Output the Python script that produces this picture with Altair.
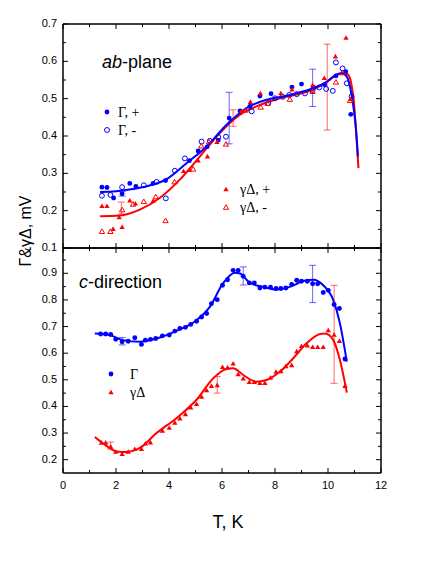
import altair as alt
import pandas as pd

# ---------------- data ----------------
# ab-plane, Gamma "+" (filled blue circles)
ab_gp_T = [1.47, 1.66, 1.91, 2.23, 2.52, 2.75, 3.40, 3.87, 4.77, 5.10, 5.44, 5.86, 6.27, 6.68,
           7.05, 7.43, 7.85, 8.64, 9.00, 9.45, 9.87, 10.30, 10.67, 10.86]
ab_gp_v = [0.263, 0.262, 0.234, 0.245, 0.273, 0.265, 0.273, 0.281, 0.334, 0.360, 0.371, 0.389, 0.448, 0.467,
           0.479, 0.507, 0.513, 0.531, 0.539, 0.531, 0.537, 0.561, 0.572, 0.458]
# ab-plane, Gamma "-" (open blue circles)
ab_gm_T = [1.47, 1.79, 2.23, 3.05, 3.53, 3.88, 4.22, 4.60, 5.23, 5.54, 5.86, 6.15, 7.12, 7.75,
           8.00, 8.29, 8.54, 8.82, 9.13, 9.42, 9.67, 9.93, 10.18, 10.30, 10.55, 10.71, 10.89]
ab_gm_v = [0.240, 0.242, 0.263, 0.268, 0.277, 0.233, 0.307, 0.340, 0.385, 0.387, 0.397, 0.398, 0.466, 0.488,
           0.501, 0.505, 0.510, 0.512, 0.514, 0.523, 0.530, 0.526, 0.521, 0.597, 0.581, 0.541, 0.506]
# ab-plane, gamma-Delta "+" (filled red triangles)
ab_dp_T = [1.47, 1.66, 1.89, 2.12, 2.23, 2.52, 2.73, 3.40, 4.55, 4.77, 5.10, 5.45, 5.81, 6.74,
           7.07, 7.45, 8.22, 8.64, 9.42, 9.86, 10.28, 10.68, 10.86]
ab_dp_v = [0.213, 0.213, 0.152, 0.183, 0.157, 0.228, 0.220, 0.227, 0.307, 0.310, 0.335, 0.346, 0.385, 0.468,
           0.492, 0.515, 0.515, 0.525, 0.537, 0.556, 0.614, 0.664, 0.500]
# ab-plane, gamma-Delta "-" (open red triangles)
ab_dm_T = [1.47, 1.79, 2.23, 2.64, 3.05, 3.50, 3.87, 4.21, 4.91, 5.22, 5.51, 6.15, 6.89, 7.46,
           7.72, 8.56, 9.42, 10.30, 10.54, 10.83]
ab_dm_v = [0.145, 0.145, 0.203, 0.218, 0.225, 0.238, 0.174, 0.278, 0.312, 0.374, 0.385, 0.379, 0.470, 0.478,
           0.488, 0.499, 0.520, 0.545, 0.570, 0.496]
# ab-plane fitted curves
ab_fitG_T = [1.40, 2.00, 2.64, 3.40, 3.90, 4.66, 5.42, 6.17, 6.93, 7.68, 8.44, 8.94, 9.45, 9.95,
             10.33, 10.52, 10.71, 10.83, 10.96, 11.06, 11.13]
ab_fitG_v = [0.250, 0.252, 0.258, 0.270, 0.284, 0.327, 0.372, 0.430, 0.475, 0.497, 0.508, 0.517, 0.528, 0.545,
             0.565, 0.568, 0.559, 0.532, 0.478, 0.416, 0.345]
ab_fitD_T = [1.40, 2.14, 2.90, 3.65, 4.41, 5.16, 5.92, 6.68, 7.43, 8.19, 8.94, 9.45, 9.95, 10.30,
             10.58, 10.75, 10.88, 10.98, 11.06, 11.15]
ab_fitD_v = [0.185, 0.187, 0.203, 0.234, 0.283, 0.345, 0.408, 0.457, 0.483, 0.501, 0.513, 0.525, 0.545, 0.562,
             0.569, 0.565, 0.540, 0.490, 0.410, 0.314]
# ab-plane error bars (T, centre, half-width)
ab_errG_T = [2.23, 6.27, 9.42]
ab_errG_v = [0.245, 0.448, 0.529]
ab_errG_e = [0.006, 0.069, 0.050]
ab_errD_T = [2.20, 6.42, 9.97]
ab_errD_v = [0.207, 0.448, 0.531]
ab_errD_e = [0.016, 0.022, 0.115]

# c-direction, Gamma (blue circles)
c_g_T = [1.42, 1.61, 1.80, 1.99, 2.23, 2.46, 2.71, 2.96, 3.11, 3.30, 3.50, 3.75, 4.01, 4.22, 4.41,
         4.62, 4.82, 5.04, 5.23, 5.42, 5.60, 5.82, 6.02, 6.21, 6.42, 6.61, 6.80, 7.03, 7.22, 7.43,
         7.62, 7.83, 8.04, 8.22, 8.41, 8.63, 8.82, 9.00, 9.22, 9.42, 9.61, 9.82, 10.01, 10.23, 10.43, 10.64]
c_g_v = [0.672, 0.672, 0.670, 0.652, 0.643, 0.645, 0.658, 0.633, 0.649, 0.652, 0.655, 0.665, 0.668, 0.683, 0.693,
         0.697, 0.708, 0.720, 0.736, 0.749, 0.786, 0.801, 0.855, 0.876, 0.911, 0.911, 0.889, 0.864, 0.864, 0.845,
         0.848, 0.848, 0.843, 0.843, 0.845, 0.858, 0.874, 0.870, 0.870, 0.861, 0.861, 0.828, 0.836, 0.783, 0.768, 0.578]
# c-direction, gamma-Delta (red triangles)
c_d_T = [1.45, 1.61, 1.80, 1.99, 2.23, 2.46, 2.71, 2.96, 3.11, 3.30, 3.75, 4.01, 4.22, 4.41, 4.62,
         4.82, 5.04, 5.23, 5.42, 5.60, 5.82, 6.02, 6.21, 6.42, 6.61, 6.80, 7.03, 7.22, 7.43, 7.62,
         7.83, 8.04, 8.22, 8.41, 8.63, 8.82, 9.00, 9.22, 9.42, 9.61, 9.82, 10.01, 10.23, 10.43, 10.64]
c_d_v = [0.265, 0.265, 0.250, 0.231, 0.222, 0.231, 0.241, 0.241, 0.262, 0.266, 0.310, 0.321, 0.340, 0.356, 0.372,
         0.397, 0.410, 0.437, 0.462, 0.478, 0.481, 0.549, 0.547, 0.562, 0.522, 0.506, 0.493, 0.493, 0.489, 0.489,
         0.509, 0.531, 0.533, 0.552, 0.556, 0.608, 0.628, 0.630, 0.624, 0.624, 0.624, 0.687, 0.670, 0.647, 0.478]
# c-direction fitted curves
c_fitG_T = [1.20, 1.76, 2.27, 2.90, 3.53, 4.28, 5.04, 5.54, 6.05, 6.49, 6.68, 7.05, 7.56, 8.06,
            8.56, 9.07, 9.45, 9.82, 10.20, 10.45, 10.71]
c_fitG_v = [0.674, 0.668, 0.649, 0.643, 0.655, 0.684, 0.724, 0.774, 0.864, 0.902, 0.899, 0.864, 0.849, 0.839,
            0.849, 0.871, 0.876, 0.855, 0.799, 0.712, 0.568]
c_fitD_T = [1.20, 1.64, 2.02, 2.39, 2.90, 3.53, 4.28, 5.04, 5.67, 6.17, 6.42, 6.80, 7.30, 7.68,
            8.19, 8.69, 9.19, 9.70, 9.89, 10.20, 10.45, 10.71]
c_fitD_v = [0.285, 0.252, 0.231, 0.229, 0.244, 0.300, 0.356, 0.425, 0.506, 0.541, 0.543, 0.518, 0.493, 0.499,
            0.531, 0.581, 0.637, 0.672, 0.674, 0.649, 0.574, 0.452]
# c-direction error bars
c_errG_T = [2.23, 6.80, 9.42]
c_errG_v = [0.645, 0.890, 0.860]
c_errG_e = [0.014, 0.034, 0.070]
c_errD_T = [1.80, 5.82, 10.23]
c_errD_v = [0.253, 0.481, 0.671]
c_errD_e = [0.013, 0.031, 0.184]

# axis ticks / tick labels
x_major = [0, 2, 4, 6, 8, 10, 12]
x_minor = [1, 3, 5, 7, 9, 11]
ab_y_major = [0.1, 0.2, 0.3, 0.4, 0.5, 0.6, 0.7]
ab_y_minor = [0.15, 0.25, 0.35, 0.45, 0.55, 0.65]
c_y_major = [0.2, 0.3, 0.4, 0.5, 0.6, 0.7, 0.8, 0.9]
c_y_minor = [0.25, 0.35, 0.45, 0.55, 0.65, 0.75, 0.85, 0.95]
x_title = "T, K"
y_title = "Γ&γΔ, mV"

# ---------------- layout & styling ----------------
BLUE = "#0000ff"
RED = "#ff0000"
FONT = "Liberation Sans"
SERIF = "Liberation Serif"
X_DOM = [0, 12]
CHART_W = 420          # whole panel width (page minus margins)
PL, PR = 55, 373       # plot area left/right inside a panel
MAJ = 5
MIN = 3


def df(T, v):
    return pd.DataFrame({"T": T, "v": v})


def err_df(T, v, e):
    return pd.DataFrame({"T": T, "lo": [a - b for a, b in zip(v, e)], "hi": [a + b for a, b in zip(v, e)]})


def txt(text, x, y, size, font=FONT, style="normal", align="left", baseline="alphabetic", angle=0):
    return alt.Chart(pd.DataFrame({"t": [text]})).mark_text(
        align=align, baseline=baseline, font=font, fontSize=size, fontStyle=style, angle=angle,
        color="black").encode(text="t:N", x=alt.value(x), y=alt.value(y))


def panel(y_dom, y_major, y_minor, x_labels, points, fits, errs, annots, top_px, bot_px, panel_h, ytitle=False):
    xs = alt.Scale(domain=X_DOM, range=[PL, PR], nice=False, zero=False)
    ys = alt.Scale(domain=y_dom, range=[bot_px, top_px], nice=False, zero=False)
    X = alt.X("T:Q", scale=xs, axis=None)
    # pixel -> data-unit conversion for tick lengths
    px_x = (X_DOM[1] - X_DOM[0]) / (PR - PL)
    px_y = (y_dom[1] - y_dom[0]) / (bot_px - top_px)
    layers = []

    # fitted curves
    for (T, v), col in fits:
        layers.append(alt.Chart(df(T, v)).mark_line(color=col, strokeWidth=2, interpolate="monotone").encode(
            x=X, y=alt.Y("v:Q", scale=ys, axis=None)))

    # error bars
    for (T, v, e), col in errs:
        d = err_df(T, v, e)
        layers.append(alt.Chart(d).mark_rule(color=col, strokeWidth=1, opacity=0.6).encode(
            x=X, y=alt.Y("lo:Q", scale=ys, axis=None), y2="hi:Q"))
        for f in ("lo", "hi"):
            layers.append(alt.Chart(d).mark_tick(color=col, thickness=1, size=7, orient="horizontal", opacity=0.6).encode(
                x=X, y=alt.Y(f + ":Q", scale=ys, axis=None)))

    # data points
    for (T, v), shape, col, filled in points:
        mk = alt.Chart(df(T, v)).mark_point(shape=shape, filled=filled, color=col, size=24 if shape == "circle" else 28,
                                             strokeWidth=1, opacity=1)
        layers.append(mk.encode(x=X, y=alt.Y("v:Q", scale=ys, axis=None)))

    # annotations (legend entries and panel labels), pixel offsets from the plot corner
    for a in annots:
        ax, ay = PL + a["x"], top_px + a["y"]
        if a["kind"] == "sym":
            layers.append(alt.Chart(pd.DataFrame({"k": [0]})).mark_point(
                shape=a["shape"], filled=a["filled"], color=a["color"], size=24 if a["shape"] == "circle" else 28,
                strokeWidth=1, opacity=1).encode(x=alt.value(ax), y=alt.value(ay)))
        else:
            layers.append(txt(a["text"], ax, ay, a["size"], font=a.get("font", FONT),
                              style=a.get("style", "normal")))

    # inward tick marks on all four sides, drawn through the scales
    y0, y1 = y_dom
    x0, x1 = X_DOM
    for vals, ln in ((y_major, MAJ), (y_minor, MIN)):
        L = ln * px_x
        d = pd.DataFrame({"v": vals, "a": [x0] * len(vals), "b": [x0 + L] * len(vals),
                          "c": [x1 - L] * len(vals), "e": [x1] * len(vals)})
        layers.append(alt.Chart(d).mark_rule(color="black", strokeWidth=1).encode(
            y=alt.Y("v:Q", scale=ys, axis=None), x=alt.X("a:Q", scale=xs, axis=None), x2="b:Q"))
        layers.append(alt.Chart(d).mark_rule(color="black", strokeWidth=1).encode(
            y=alt.Y("v:Q", scale=ys, axis=None), x=alt.X("c:Q", scale=xs, axis=None), x2="e:Q"))
    for vals, ln in ((x_major, MAJ), (x_minor, MIN)):
        L = ln * px_y
        d = pd.DataFrame({"T": vals, "a": [y0] * len(vals), "b": [y0 + L] * len(vals),
                          "c": [y1 - L] * len(vals), "e": [y1] * len(vals)})
        layers.append(alt.Chart(d).mark_rule(color="black", strokeWidth=1).encode(
            x=X, y=alt.Y("a:Q", scale=ys, axis=None), y2="b:Q"))
        layers.append(alt.Chart(d).mark_rule(color="black", strokeWidth=1).encode(
            x=X, y=alt.Y("c:Q", scale=ys, axis=None), y2="e:Q"))

    # frame: four edges through the scales
    fv = pd.DataFrame({"T": [x0, x1], "a": [y0, y0], "b": [y1, y1]})
    layers.append(alt.Chart(fv).mark_rule(color="black", strokeWidth=1.5).encode(
        x=X, y=alt.Y("a:Q", scale=ys, axis=None), y2="b:Q"))
    fh = pd.DataFrame({"v": [y0, y1], "a": [x0, x0], "b": [x1, x1]})
    layers.append(alt.Chart(fh).mark_rule(color="black", strokeWidth=1.5).encode(
        y=alt.Y("v:Q", scale=ys, axis=None), x=alt.X("a:Q", scale=xs, axis=None), x2="b:Q"))

    # tick labels (placed through the scales)
    ylab = pd.DataFrame({"v": y_major, "lab": [f"{v:.1f}" for v in y_major]})
    layers.append(alt.Chart(ylab).mark_text(align="right", baseline="middle", font=FONT, fontSize=11,
                                            color="black").encode(
        y=alt.Y("v:Q", scale=ys, axis=None), x=alt.value(PL - 6), text="lab:N"))
    if x_labels:
        xlab = pd.DataFrame({"T": x_major, "lab": [str(t) for t in x_major]})
        layers.append(alt.Chart(xlab).mark_text(align="center", baseline="middle", font=FONT, fontSize=11,
                                                color="black").encode(
            x=X, y=alt.value(bot_px + 13), text="lab:N"))
        layers.append(txt(x_title, PL + 165, bot_px + 50, 18, align="center", baseline="middle"))
    if ytitle:
        layers.append(txt(y_title, PL - 37, top_px + 207, 16, align="center", baseline="middle", angle=270))

    return alt.layer(*layers).properties(width=CHART_W, height=panel_h)


top_annots = [
    dict(kind="text", text="ab", x=39, y=44, size=18, style="italic"),
    dict(kind="text", text="-plane", x=59, y=44, size=18),
    dict(kind="sym", shape="circle", filled=True, color=BLUE, x=44, y=88),
    dict(kind="text", text="Γ, +", x=55, y=93, size=14, font=SERIF),
    dict(kind="sym", shape="circle", filled=False, color=BLUE, x=44, y=106),
    dict(kind="text", text="Γ, -", x=55, y=111, size=14, font=SERIF),
    dict(kind="sym", shape="triangle-up", filled=True, color=RED, x=163, y=165),
    dict(kind="text", text="γΔ, +", x=177, y=170, size=14, font=SERIF),
    dict(kind="sym", shape="triangle-up", filled=False, color=RED, x=163, y=183),
    dict(kind="text", text="γΔ, -", x=177, y=188, size=14, font=SERIF),
]
bot_annots = [
    dict(kind="text", text="c", x=16, y=40, size=18, style="italic"),
    dict(kind="text", text="-direction", x=25, y=40, size=18),
    dict(kind="sym", shape="circle", filled=True, color=BLUE, x=48, y=126),
    dict(kind="text", text="Γ", x=67, y=131, size=14, font=SERIF),
    dict(kind="sym", shape="triangle-up", filled=True, color=RED, x=48, y=144),
    dict(kind="text", text="γΔ", x=67, y=149, size=14, font=SERIF),
]

top = panel(
    [0.1, 0.7], ab_y_major, ab_y_minor, False,
    points=[((ab_gp_T, ab_gp_v), "circle", BLUE, True),
            ((ab_gm_T, ab_gm_v), "circle", BLUE, False),
            ((ab_dp_T, ab_dp_v), "triangle-up", RED, True),
            ((ab_dm_T, ab_dm_v), "triangle-up", RED, False)],
    fits=[((ab_fitD_T, ab_fitD_v), RED), ((ab_fitG_T, ab_fitG_v), BLUE)],
    errs=[((ab_errG_T, ab_errG_v, ab_errG_e), BLUE), ((ab_errD_T, ab_errD_v, ab_errD_e), RED)],
    annots=top_annots, top_px=16, bot_px=240, panel_h=240, ytitle=True)

bottom = panel(
    [0.15, 0.995], c_y_major, c_y_minor, True,
    points=[((c_g_T, c_g_v), "circle", BLUE, True),
            ((c_d_T, c_d_v), "triangle-up", RED, True)],
    fits=[((c_fitG_T, c_fitG_v), BLUE), ((c_fitD_T, c_fitD_v), RED)],
    errs=[((c_errG_T, c_errG_v, c_errG_e), BLUE), ((c_errD_T, c_errD_v, c_errD_e), RED)],
    annots=bot_annots, top_px=0, bot_px=225, panel_h=300)

chart = alt.vconcat(top, bottom, spacing=0, bounds="flush").properties(
    padding=0,
    background="white",
).configure_view(stroke="transparent", strokeWidth=0)

chart.save("out.html", embed_options={"renderer": "svg", "actions": False})
